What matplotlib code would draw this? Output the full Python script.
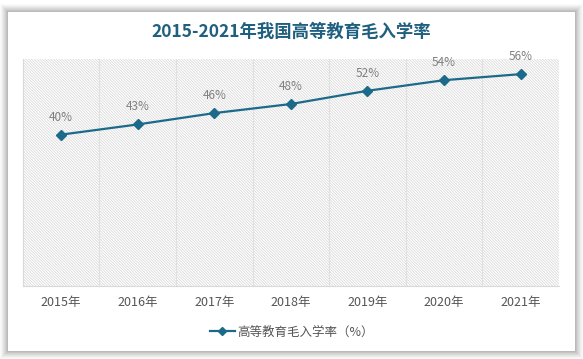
import matplotlib
matplotlib.use("Agg")
import matplotlib.pyplot as plt
from matplotlib.patches import Rectangle
from matplotlib.lines import Line2D

plt.rcParams['font.family'] = ['Noto Sans CJK SC', 'DejaVu Sans']
plt.rcParams['hatch.linewidth'] = 0.5

years = ["2015年", "2016年", "2017年", "2018年", "2019年", "2020年", "2021年"]
rates = [40.0, 42.7, 45.7, 48.1, 51.6, 54.4, 56.0]
labels = ["40%", "43%", "46%", "48%", "52%", "54%", "56%"]
series_name = "高等教育毛入学率（%）"
title = "2015-2021年我国高等教育毛入学率"

W, H = 583, 359
fig = plt.figure(figsize=(W / 100, H / 100), dpi=100)
fig.patch.set_facecolor('white')

# card shadow
for i, a in enumerate([0.02, 0.025, 0.03, 0.035, 0.04, 0.045, 0.05, 0.05]):
    d = 8 - i
    fig.add_artist(Rectangle(((8 - d) / W, (H - 351 - d) / H), (567 + 2 * d) / W, (339 + 2 * d) / H,
                             transform=fig.transFigure, facecolor='black', alpha=a,
                             edgecolor='none', zorder=-3))
fig.add_artist(Rectangle((8 / W, (H - 351) / H), 567 / W, 339 / H, transform=fig.transFigure,
                         facecolor='white', edgecolor='none', zorder=-2))

left, right, top, bottom = 22.7, 559, 59, 286
ax = fig.add_axes([left / W, (H - bottom) / H, (right - left) / W, (bottom - top) / H])
ax.set_facecolor('white')
ax.add_patch(Rectangle((0, 0), 1, 1, transform=ax.transAxes, facecolor='white',
                       edgecolor='#D4D4D4', hatch='\\' * 12, linewidth=0, zorder=0))

x = list(range(len(years)))
color = '#1C6A8A'
ax.plot(x, rates, color=color, lw=1.6, marker='D', markersize=5.5, zorder=3)
for xi, yi, lab in zip(x, rates, labels):
    ax.annotate(lab, (xi, yi), xytext=(0, 8), textcoords='offset points', ha='center',
                va='bottom', fontsize=8.5, color='#808080')

ax.set_xlim(-0.5, len(years) - 0.5)
ax.set_ylim(0, 60)
for b in range(1, len(years)):
    ax.axvline(b - 0.5, color='#E0E0E0', lw=0.8, zorder=1)
ax.set_xticks(x)
ax.set_xticklabels(years, fontsize=9, color='#555555')
ax.tick_params(axis='x', length=0, pad=7)
ax.set_yticks([])
for s in ['top', 'right']:
    ax.spines[s].set_visible(False)
ax.spines['left'].set_color('#D9D9D9')
ax.spines['bottom'].set_color('#D9D9D9')

fig.text(0.5, 1 - 32 / H, title, ha='center', va='center', fontsize=12.5,
         fontweight='bold', color='#1F5F7F')

handle = Line2D([], [], color=color, lw=1.6, marker='D', markersize=4)
fig.legend([handle], [series_name], loc='center', bbox_to_anchor=(0.5, 1 - 332 / H),
           frameon=False, fontsize=9, labelcolor='#555555', handlelength=2.0,
           handletextpad=0.2)

fig.savefig('out.png', dpi=100, facecolor=fig.get_facecolor())
